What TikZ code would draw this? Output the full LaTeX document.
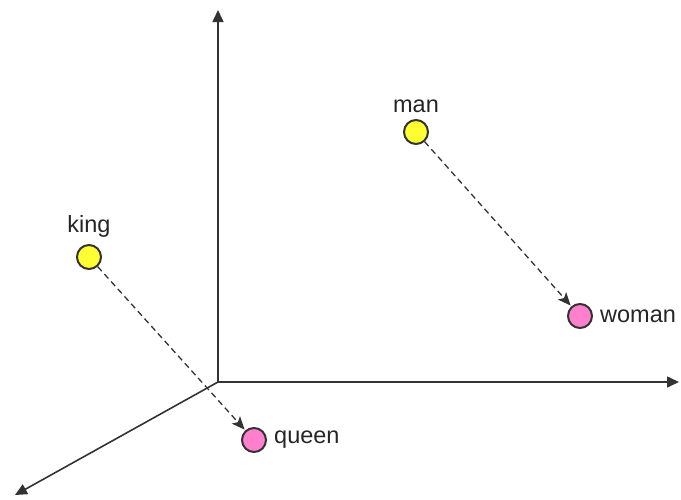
\documentclass[tikz,border=0pt]{standalone}
\usepackage{fontspec}
\setmainfont{Liberation Sans}
\usetikzlibrary{arrows.meta,positioning}
\definecolor{dotyellow}{HTML}{FFFF33}
\definecolor{dotpink}{HTML}{FF80CC}
\definecolor{linegray}{HTML}{333333}
\begin{document}
\begin{tikzpicture}[
  x=1pt, y=-1pt,
  dot/.style={draw=linegray, circle, line width=2pt, minimum size=24pt, inner sep=0pt},
  word/.style={font=\fontsize{23.5}{28}\selectfont, text=black!85, inner sep=2pt},
  axis/.style={-{Triangle[length=12pt,width=11pt]}, line width=1.6pt, linegray},
  offsetarr/.style={-{Stealth[length=13pt,width=11pt,inset=3pt]}, line width=1.3pt, linegray, dash pattern=on 6pt off 4pt, shorten >=1pt}]
\useasboundingbox (0,0) rectangle (681,499);
% axes
\coordinate (o) at (218,382);
\coordinate (ytip) at (218,10);
\coordinate (xtip) at (679,382);
\coordinate (ztip) at (15,495);
\draw[axis] (o) -- (ytip);
\draw[axis] (o) -- (xtip);
\draw[axis] (o) -- (ztip);
% words
\node[dot, fill=dotyellow] (man) at (416,132) {};
\node[dot, fill=dotyellow] (king) at (89,257) {};
\node[dot, fill=dotpink] (woman) at (580,316) {};
\node[dot, fill=dotpink] (queen) at (254,440) {};
\node[word, above=4pt of man] {man};
\node[word, above=4pt of king] {king};
\node[word, right=5pt of woman] {woman};
\node[word, right=5pt of queen] {queen};
% offsets
\draw[offsetarr] (man) -- (woman);
\draw[offsetarr] (king) -- (queen);
\end{tikzpicture}
\end{document}
